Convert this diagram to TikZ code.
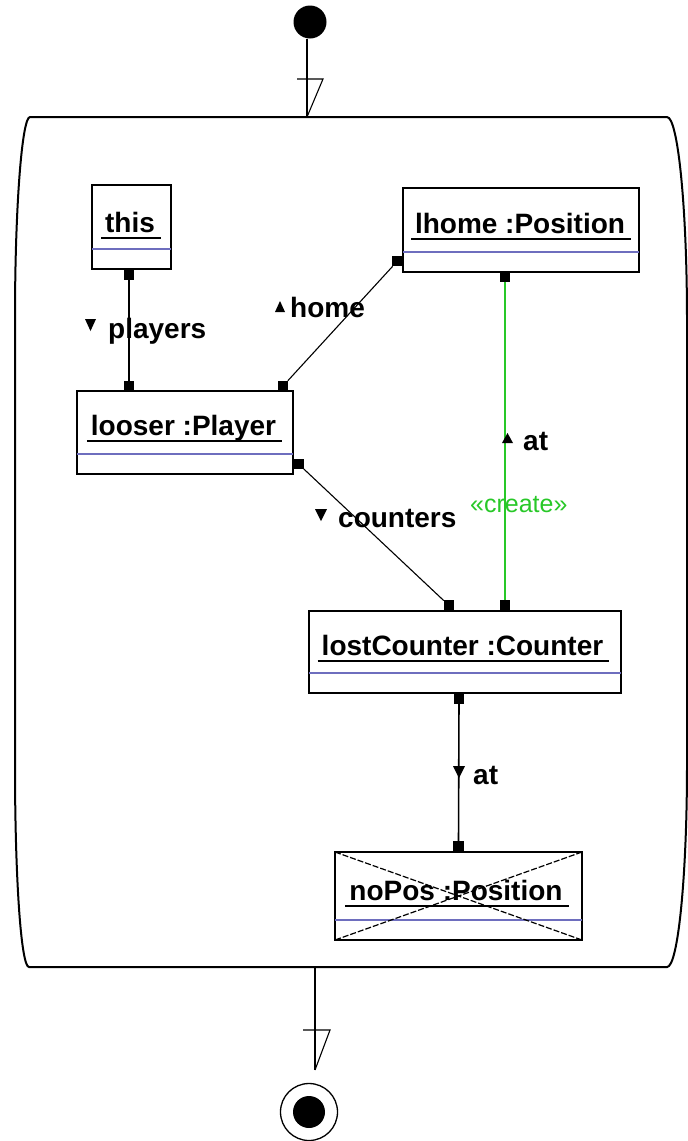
\documentclass[tikz,border=0pt]{standalone}
\usepackage{fontspec}
\setmainfont{Liberation Sans}
\usetikzlibrary{calc}
\definecolor{umlgreen}{RGB}{40,200,40}
\definecolor{umlblue}{RGB}{110,110,190}
\newcommand\UMLobj[8]{%
  \node[objbox, minimum width=#4pt, minimum height=#5pt] (#1) at (#2,#3) {};
  \node[objtext] (#1-t) at (#6,#7) {#8};
  \draw[ulline] ($(#1-t.base west)+(-4,6)$) -- ($(#1-t.base east)+(6,6)$);
  \draw[blueline] ($(#1.south west)+(0,-20)$) -- ($(#1.south east)+(0,-20)$);
}
\begin{document}
\begin{tikzpicture}[x=1pt,y=-1pt,
  objbox/.style={draw=black, line width=2pt, fill=white, inner sep=0pt, outer sep=0pt},
  objtext/.style={font=\fontsize{28}{30}\selectfont\bfseries, inner sep=0pt, outer sep=0pt, anchor=base},
  lbl/.style={font=\fontsize{28}{30}\selectfont\bfseries, inner sep=0pt, anchor=base west},
  sq/.style={fill=black, minimum size=10.5pt, inner sep=0pt, outer sep=0pt},
  conn/.style={line width=1.6pt},
  diag/.style={line width=1.1pt},
  ulline/.style={line width=2pt},
  blueline/.style={line width=2pt, draw=umlblue},
  greenline/.style={line width=1.8pt, draw=umlgreen},
  frame/.style={line width=2pt}
]
\useasboundingbox (0,0) rectangle (688,1141);
\fill[white] (0,0) rectangle (688,1141);

% activity frame
\draw[frame] (30,117) -- (667,117) .. controls (678,117) and (687,208) .. (687,320)
  -- (687,765) .. controls (687,877) and (678,967) .. (667,967)
  -- (29,967) .. controls (21,967) and (15,877) .. (15,767)
  -- (15,317) .. controls (15,207) and (22,117) .. (30,117) -- cycle;

% start and transition in
\node[circle, fill=black, minimum size=33pt, inner sep=0pt] (start) at (310,22) {};
\coordinate (ftop) at (307,117);
\draw[conn] (start.south -| ftop) -- (ftop);
\draw[diag] ($(ftop)+(-10,-38)$) -- ($(ftop)+(16,-38)$) -- (ftop);

% end and transition out
\coordinate (fbot) at (315,967);
\coordinate (aend) at (315,1070);
\node[circle, draw=black, line width=1.3pt, minimum size=57pt, inner sep=0pt] (end) at (309,1112) {};
\fill (end.center) circle[radius=16];
\draw[conn] (fbot) -- (aend);
\draw[diag] ($(aend)+(-12,-40)$) -- ($(aend)+(15,-40)$) -- (aend);

% objects
\UMLobj{this}{131.5}{227}{79}{84}{130}{232}{this}
\UMLobj{lhome}{521}{230}{236}{84}{520}{233}{lhome :Position}
\UMLobj{looser}{185}{432.5}{216}{83}{183.5}{435}{looser :Player}
\UMLobj{lc}{465}{652}{312}{82}{462.5}{655}{lostCounter :Counter}
\UMLobj{nopos}{458.5}{896}{247}{88}{456}{900}{noPos :Position}
\draw[line width=1.2pt, dash pattern=on 6pt off 2pt] (nopos.north west) -- (nopos.south east);
\draw[line width=1.2pt, dash pattern=on 6pt off 2pt] (nopos.north east) -- (nopos.south west);

% link end squares
\node[sq] (s-this) at (129,274.5) {};
\node[sq] (s-loo1) at (129,386) {};
\node[sq] (s-loo2) at (283,386) {};
\node[sq] (s-loo3) at (298.5,464) {};
\node[sq] (s-lh1) at (397.5,261) {};
\node[sq] (s-lh2) at (505,277) {};
\node[sq] (s-lc1) at (449,605.5) {};
\node[sq] (s-lc2) at (505,605.5) {};
\node[sq] (s-lc3) at (459,698.5) {};
\node[sq] (s-np) at (458.5,846) {};

% links
\draw[conn] (s-this) -- (s-loo1);
\draw[diag] (s-lh1) -- (s-loo2);
\draw[diag] (s-loo3) -- (s-lc1);
\draw[greenline] (s-lh2) -- (s-lc2);
\draw[conn] (s-lc3) -- (s-np);

% labels
\fill (85,319) -- (96,319) -- (90.5,331) -- cycle;
\node[lbl] (l-players) at (108,338) {players};
\fill (275,312) -- (285,312) -- (280,301) -- cycle;
\node[lbl] (l-home) at (290,317) {home};
\fill (315,509) -- (327,509) -- (321,521) -- cycle;
\node[lbl] (l-counters) at (338,527) {counters};
\fill (502,443) -- (513,443) -- (507.5,433) -- cycle;
\node[lbl] (l-at1) at (523,450) {at};
\node[lbl, font=\fontsize{25}{27}\selectfont, text=umlgreen] (l-create) at (470,512) {«create»};
\fill (453,766) -- (465,766) -- (459,778) -- cycle;
\node[lbl] (l-at2) at (473,784) {at};
\end{tikzpicture}
\end{document}
